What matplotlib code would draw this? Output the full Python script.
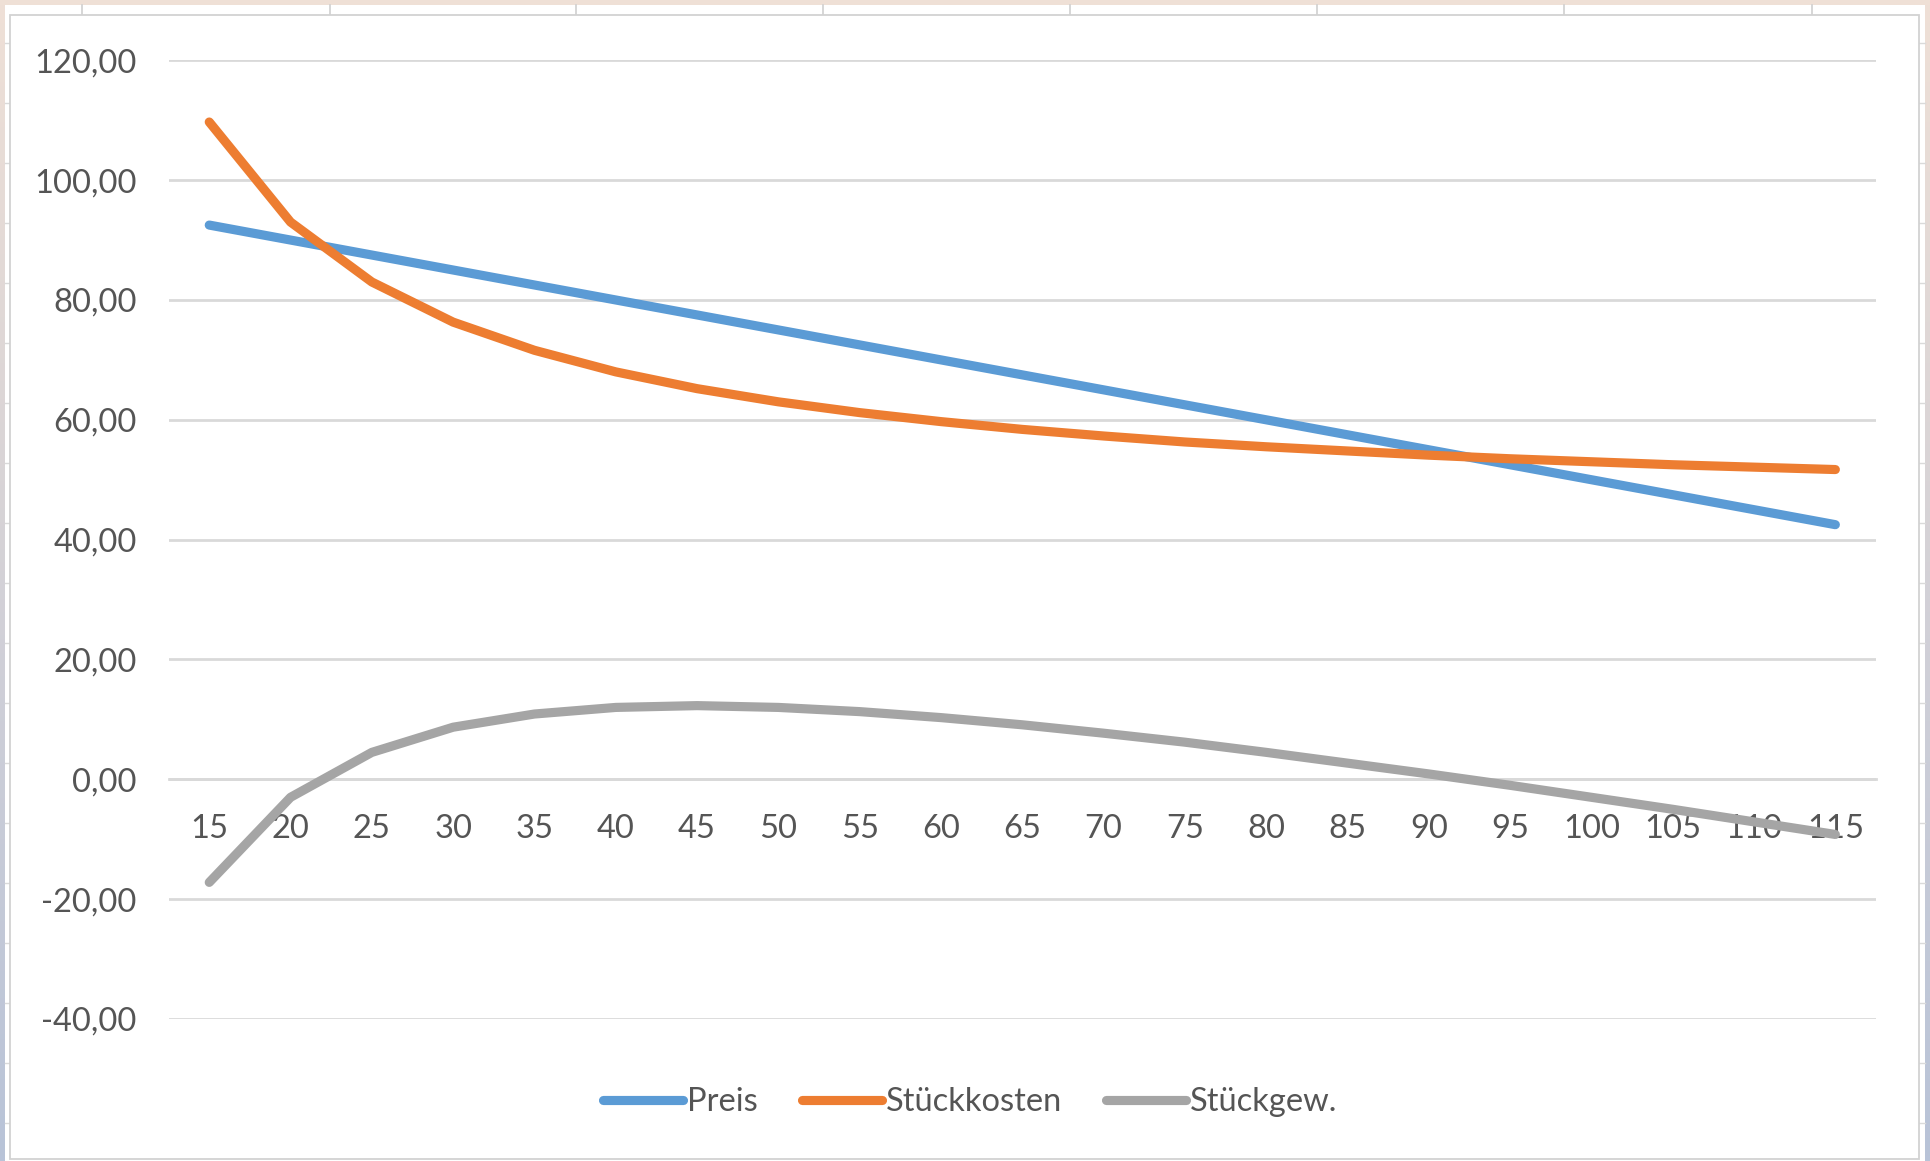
import numpy as np
import matplotlib
matplotlib.use("Agg")
import matplotlib.pyplot as plt
from matplotlib.patches import Rectangle
from matplotlib.lines import Line2D

plt.rcParams['font.family'] = ['Lato', 'DejaVu Sans']

# Stückzahl (Kategorien)
mengen = [15, 20, 25, 30, 35, 40, 45, 50, 55, 60, 65, 70, 75, 80, 85, 90, 95,
          100, 105, 110, 115]

preis = [92.5, 90.0, 87.5, 85.0, 82.5, 80.0, 77.5, 75.0, 72.5, 70.0, 67.5,
         65.0, 62.5, 60.0, 57.5, 55.0, 52.5, 50.0, 47.5, 45.0, 42.5]

stueckkosten = [109.7, 93.0, 83.0, 76.3, 71.6, 68.0, 65.2, 63.0, 61.2, 59.7,
                58.4, 57.3, 56.3, 55.5, 54.8, 54.1, 53.5, 53.0, 52.5, 52.1,
                51.7]

stueckgewinn = [-17.2, -3.0, 4.5, 8.7, 10.9, 12.0, 12.3, 12.0, 11.3, 10.3,
                9.1, 7.7, 6.2, 4.5, 2.7, 0.9, -1.0, -3.0, -5.0, -7.1, -9.2]

reihen_namen = ["Preis", "Stückkosten", "Stückgew."]
y_ticks = [-40, -20, 0, 20, 40, 60, 80, 100, 120]

farben = ["#5B9BD5", "#ED7D31", "#A5A5A5"]
text_farbe = "#555555"
gitter_farbe = "#D9D9D9"
schrift = 23.5
linienbreite = 6.6

W, H = 1930, 1161
fig = plt.figure(figsize=(W / 100, H / 100), dpi=100)
fig.patch.set_facecolor("white")

# --- surrounding frame (pixel coordinates) ---
bg = fig.add_axes([0, 0, 1, 1], zorder=-10)
bg.set_xlim(0, W)
bg.set_ylim(H, 0)
bg.axis("off")

top_col = np.array([239, 224, 214]) / 255
bot_col = np.array([184, 195, 216]) / 255
t = np.linspace(0, 1, 256)[:, None, None]
grad = top_col[None, None, :] * (1 - t) + bot_col[None, None, :] * t
bg.imshow(grad, extent=(0, 5, H, 0), aspect="auto", zorder=0)
bg.imshow(grad, extent=(W - 5, W, H, 0), aspect="auto", zorder=0)
bg.add_patch(Rectangle((0, 0), W, 5, facecolor="#EFE0D6", edgecolor="none",
                       zorder=1))
for cx in [82, 330, 576, 823, 1070, 1317, 1564, 1812]:
    bg.add_line(Line2D([cx, cx], [5, 15], color="#CFCFCF", lw=1.2, zorder=1))
for ry in range(43, H, 60):
    bg.add_line(Line2D([5, 10], [ry, ry], color="#DADADA", lw=1.0, zorder=1))
    bg.add_line(Line2D([W - 11, W - 5], [ry, ry], color="#DADADA", lw=1.0,
                       zorder=1))
bg.add_patch(Rectangle((10, 15), W - 21, H - 17, facecolor="white",
                       edgecolor="#D2D2D2", lw=1.3, zorder=2))

# --- chart ---
ax = fig.add_axes([168.6 / W, 1 - 1019 / H, (1876 - 168.6) / W,
                   (1019 - 60.3) / H])
ax.set_facecolor("none")
x = np.arange(len(mengen))

for werte, farbe, name in zip([preis, stueckkosten, stueckgewinn], farben,
                              reihen_namen):
    ax.plot(x, werte, color=farbe, lw=linienbreite, label=name, zorder=3,
            solid_capstyle="round", solid_joinstyle="round")

ax.set_xlim(-0.5, len(mengen) - 0.5)
ax.set_ylim(-40, 120)
ax.set_yticks(y_ticks)
ax.set_yticklabels([f"{v:.2f}".replace(".", ",") for v in y_ticks])
ax.set_xticks(x)
ax.set_xticklabels([str(m) for m in mengen])

ax.grid(axis="y", color=gitter_farbe, lw=2.0)
ax.grid(axis="x", visible=False)
ax.set_axisbelow(True)
for s in ["top", "right", "left"]:
    ax.spines[s].set_visible(False)
ax.spines["bottom"].set_position(("data", 0))
ax.spines["bottom"].set_color(gitter_farbe)
ax.spines["bottom"].set_linewidth(2.0)

ax.tick_params(axis="y", length=0, pad=23, labelsize=schrift,
               labelcolor=text_farbe)
ax.tick_params(axis="x", length=0, pad=25, labelsize=schrift,
               labelcolor=text_farbe)

leg = fig.legend(loc="center", bbox_to_anchor=(970 / W, 1 - 1102 / H),
                 ncol=3, frameon=False, fontsize=schrift, handlelength=2.45,
                 handletextpad=0.12, columnspacing=1.35)
for txt in leg.get_texts():
    txt.set_color(text_farbe)
for h in leg.get_lines():
    h.set_linewidth(linienbreite)
    h.set_solid_capstyle("round")

fig.savefig("out.png", dpi=100, facecolor="white")
